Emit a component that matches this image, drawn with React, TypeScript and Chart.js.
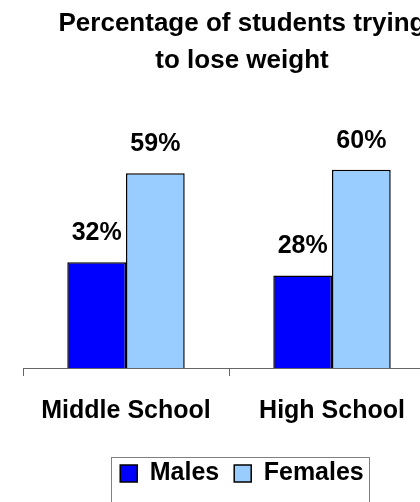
import React, { useEffect, useRef } from "react";
import { Chart, registerables } from "chart.js";

Chart.register(...registerables);

const categories = ["Middle School", "High School"];
const males = [32, 28];
const females = [59, 60];
const seriesNames = ["Males", "Females"];
const titleLines = ["Percentage of students trying", "to lose weight"];

const FONT = "'Liberation Sans', Arial, sans-serif";

const dataLabelPlugin = {
  id: "dataLabels",
  afterDatasetsDraw(chart: any) {
    const ctx = chart.ctx;
    ctx.save();
    ctx.font = `bold 25px ${FONT}`;
    ctx.fillStyle = "#000";
    ctx.textAlign = "center";
    ctx.textBaseline = "middle";
    chart.data.datasets.forEach((ds: any, i: number) => {
      const meta = chart.getDatasetMeta(i);
      meta.data.forEach((bar: any, j: number) => {
        ctx.fillText(ds.data[j] + "%", bar.x, bar.y - 29);
      });
    });
    ctx.restore();
  },
};

const legendBorderPlugin = {
  id: "legendBorder",
  afterDraw(chart: any) {
    const lg = chart.legend;
    if (!lg || !lg.legendHitBoxes || !lg.legendHitBoxes.length) return;
    const boxes = lg.legendHitBoxes;
    let l = Infinity, r = -Infinity, t = Infinity, b = -Infinity;
    boxes.forEach((h: any) => {
      l = Math.min(l, h.left);
      r = Math.max(r, h.left + h.width);
      t = Math.min(t, h.top);
      b = Math.max(b, h.top + h.height);
    });
    const ctx = chart.ctx;
    ctx.save();
    ctx.strokeStyle = "#808080";
    ctx.lineWidth = 1;
    ctx.strokeRect(Math.round(l - 9) + 0.5, Math.round(t - 4) + 0.5, Math.round(r - l + 14), Math.round(b - t + 30));
    ctx.restore();
  },
};

const spacerAxis = (w: number, position: string) => ({
  display: true,
  position,
  min: 0,
  max: 70,
  grid: { display: false, drawTicks: false },
  border: { display: false },
  ticks: { display: false },
  afterFit(scale: any) {
    scale.width = w;
  },
});

export default function App() {
  const ref = useRef<HTMLCanvasElement | null>(null);
  useEffect(() => {
    if (!ref.current) return;
    const chart = new Chart(ref.current, {
      type: "bar",
      data: {
        labels: categories,
        datasets: [
          {
            label: seriesNames[0],
            data: males,
            backgroundColor: "#0000FF",
            borderColor: "#000000",
            borderWidth: 1.5,
            categoryPercentage: 0.57,
            barPercentage: 1,
            yAxisID: "y",
          },
          {
            label: seriesNames[1],
            data: females,
            backgroundColor: "#99CCFF",
            borderColor: "#000000",
            borderWidth: 1.5,
            categoryPercentage: 0.57,
            barPercentage: 1,
            yAxisID: "y",
          },
        ],
      },
      options: {
        responsive: false,
        animation: false,
        devicePixelRatio: 1,
        layout: { padding: { left: 0, right: 0, top: 5, bottom: 10 } },
        plugins: {
          title: {
            display: true,
            text: titleLines,
            color: "#000",
            font: { family: FONT, size: 26, weight: "bold", lineHeight: 1.42 },
            padding: { top: 0, bottom: 58 },
          },
          legend: {
            display: true,
            position: "bottom",
            labels: {
              color: "#000",
              boxWidth: 17,
              boxHeight: 17,
              padding: 15,
              font: { family: FONT, size: 25, weight: "bold" },
            },
          },
          tooltip: { enabled: false },
        },
        scales: {
          x: {
            grid: {
              offset: true,
              drawOnChartArea: false,
              drawTicks: true,
              tickLength: 8,
              color: "#666",
            },
            border: { display: true, color: "#666", width: 1 },
            ticks: {
              color: "#000",
              padding: 20,
              font: { family: FONT, size: 25, weight: "bold" },
            },
          },
          y: spacerAxis(23, "left") as any,
          y2: spacerAxis(49, "right") as any,
        },
      },
      plugins: [dataLabelPlugin, legendBorderPlugin],
    });
    return () => chart.destroy();
  }, []);
  return (
    <div style={{ position: "fixed", left: 0, top: 0, width: 420, height: 502, overflow: "hidden", background: "#fff" }}>
      <canvas ref={ref} width={484} height={506} style={{ display: "block" }} />
    </div>
  );
}
